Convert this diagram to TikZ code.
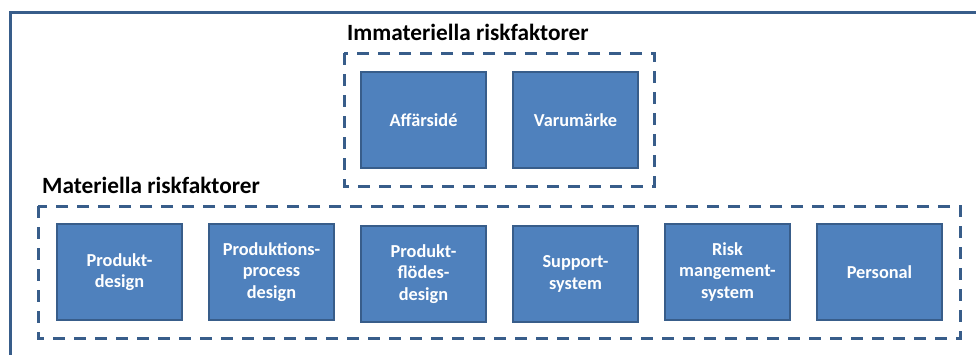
\documentclass[tikz,border=0pt]{standalone}
\usepackage{fontspec}
\setmainfont{Carlito}
\definecolor{boxfill}{HTML}{4F81BD}
\definecolor{boxline}{HTML}{385D8A}
\begin{document}
\begin{tikzpicture}[x=1pt,y=-1pt,
  factor/.style={draw=boxline, line width=2.5pt, fill=boxfill,
    minimum width=125pt, minimum height=96pt, inner sep=0pt,
    text=white, align=center,
    font=\fontsize{18.3}{21.7}\selectfont\bfseries},
  group/.style={draw=boxline, line width=3pt, dash pattern=on 12pt off 9pt},
  grouptitle/.style={anchor=base west, inner sep=0pt,
    font=\fontsize{23.3}{28}\selectfont\bfseries}]
\useasboundingbox (0,0) rectangle (976,354);
\clip (0,0) rectangle (976,354);
% frame around the whole figure
\draw[boxline, line width=3pt] (10,12) rectangle (990,370);

% intangible risk factors
\node[grouptitle] (immtitle) at (347,40) {Immateriella riskfaktorer};
\draw[group] (344,53) rectangle (654,186);
\node[factor] (affar) at (423.5,120) {Affärsidé};
\node[factor] (varu) at (575.5,120) {Varumärke};

% tangible risk factors
\node[grouptitle] (mattitle) at (42,193) {Materiella riskfaktorer};
\draw[group] (38,206) rectangle (960.5,338);
\node[factor] (prod) at (119.5,272) {Produkt-\\design};
\node[factor] (proc) at (271.5,272) {Produktions-\\process\\design};
\node[factor] (flode) at (423.5,274) {Produkt-\\flödes-\\design};
\node[factor] (supp) at (575.5,274) {Support-\\system};
\node[factor] (risk) at (727.5,272) {Risk\\mangement-\\system};
\node[factor] (pers) at (879.5,272) {Personal};
\end{tikzpicture}
\end{document}
